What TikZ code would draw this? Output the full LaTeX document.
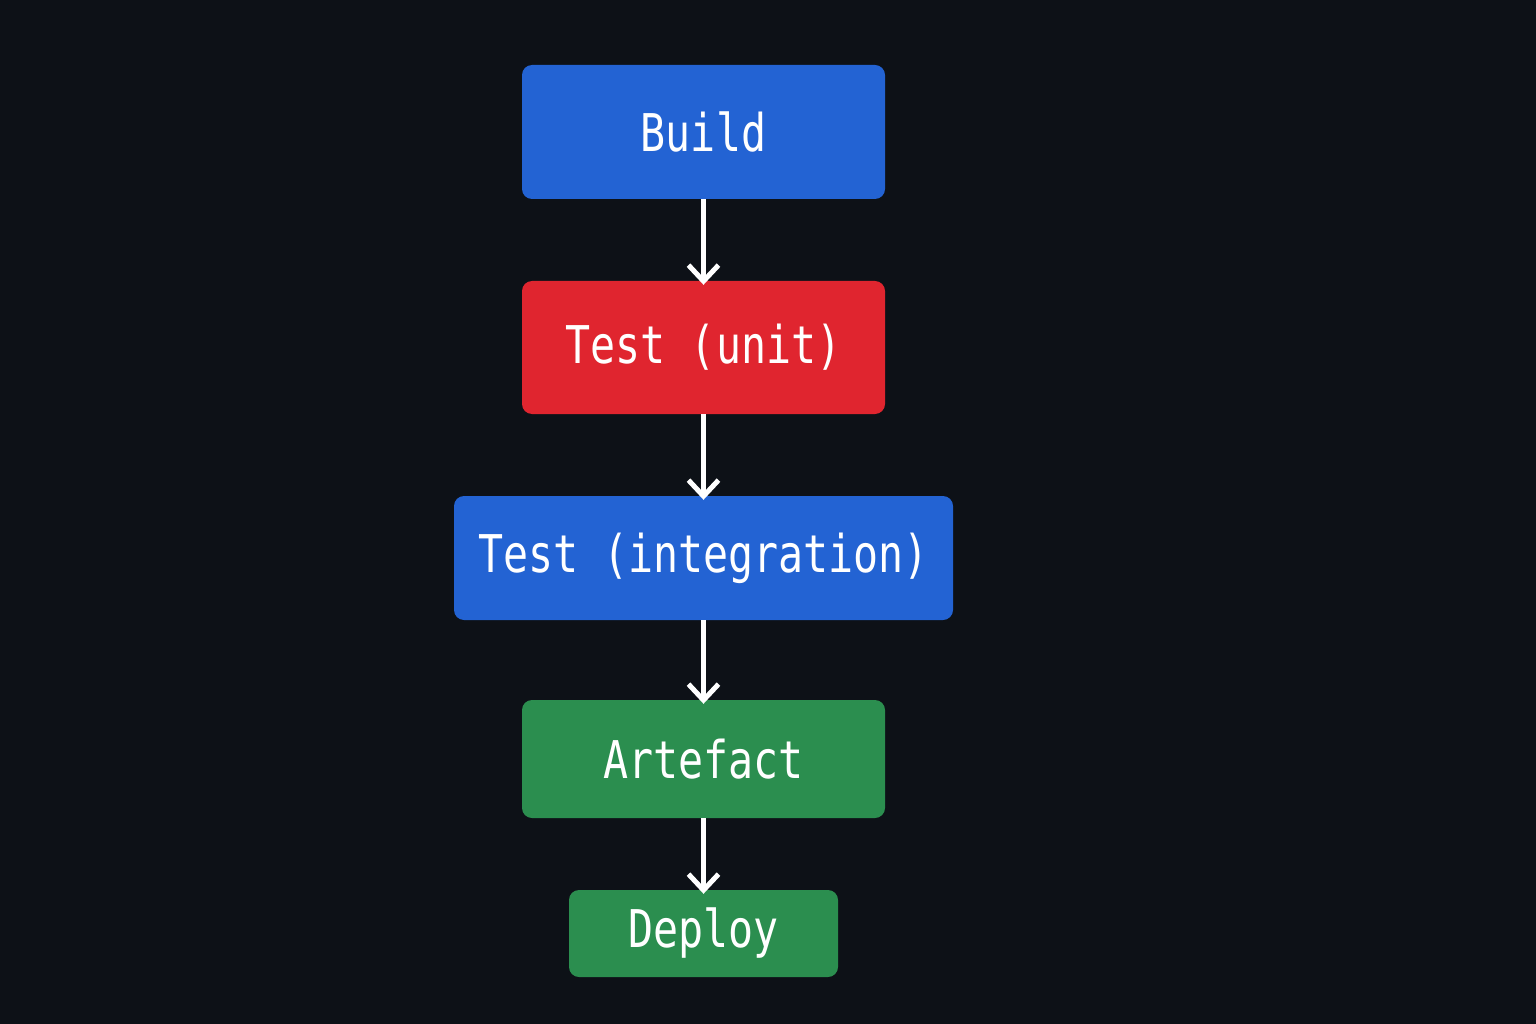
\documentclass[tikz,border=0pt]{standalone}
\usepackage{fontspec}
\setmonofont[FakeStretch=0.8]{DejaVu Sans Mono}
\usetikzlibrary{arrows.meta}
\definecolor{bg}{HTML}{0D1117}
\definecolor{bblue}{HTML}{2363D3}
\definecolor{bred}{HTML}{E0252F}
\definecolor{bgreen}{HTML}{2B8E4F}
\begin{document}
\begin{tikzpicture}[x=1pt,y=-1pt,
  box/.style={rounded corners=10pt,inner sep=0pt,text=white,font=\ttfamily\fontsize{52}{60}\selectfont},
  arr/.style={draw=white,line width=5pt,-{Straight Barb[length=16pt,width=30pt,line width=5pt]}}]
\fill[bg] (0,0) rectangle (1536,1024);
\useasboundingbox (0,0) rectangle (1536,1024);
\node[box,fill=bblue,minimum width=363pt,minimum height=134pt] (build) at (703.5,132) {Build};
\node[box,fill=bred,minimum width=363pt,minimum height=133pt] (unit) at (703.5,347.5) {Test (unit)};
\node[box,fill=bblue,minimum width=499pt,minimum height=124pt] (integ) at (703.5,558) {Test (integration)};
\node[box,fill=bgreen,minimum width=363pt,minimum height=118pt] (art) at (703.5,759) {Artefact};
\node[box,fill=bgreen,minimum width=269pt,minimum height=87pt] (dep) at (703.5,933.5) {Deploy};
\draw[arr] (build.south) -- ([yshift=-4pt]unit.north);
\draw[arr] (unit.south) -- ([yshift=-4pt]integ.north);
\draw[arr] (integ.south) -- ([yshift=-4pt]art.north);
\draw[arr] (art.south) -- ([yshift=-4pt]dep.north);
\end{tikzpicture}
\end{document}
